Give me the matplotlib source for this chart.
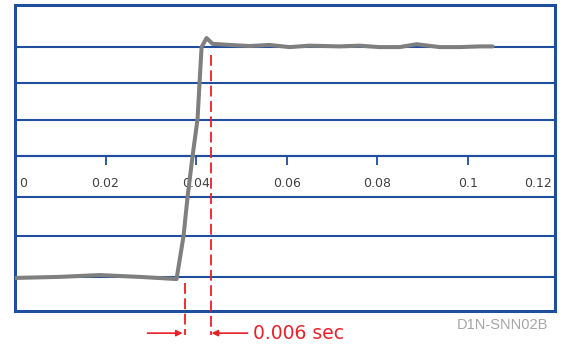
import matplotlib
matplotlib.use("Agg")
import matplotlib.pyplot as plt
from matplotlib.transforms import ScaledTranslation

# step response trace (time in s, signal in grid units)
t = [0.0, 0.00983, 0.01867, 0.02751, 0.03569, 0.03724, 0.03812, 0.03923,
     0.04033, 0.04077, 0.04122, 0.04232, 0.04365, 0.0474, 0.05182, 0.05624,
     0.06066, 0.06508, 0.07171, 0.07613, 0.08055, 0.08497, 0.08873, 0.09381,
     0.09823, 0.10265, 0.10552]
v = [-3.36, -3.33, -3.28, -3.33, -3.39, -2.20, -1.13, 0.0,
     1.02, 2.01, 3.00, 3.25, 3.09, 3.06, 3.03, 3.06,
     3.00, 3.04, 3.02, 3.04, 3.00, 3.00, 3.08, 3.00,
     3.00, 3.02, 3.02]

grid_levels = [3, 2, 1, 0, -1.13, -2.2, -3.33]
x_ticks = [0, 0.02, 0.04, 0.06, 0.08, 0.1]
x_labels = ["0", "0.02", "0.04", "0.06", "0.08", "0.1"]
x_end_label = "0.12"   # sits just past the visible range, at the frame

t_start = 0.0376   # rise start marker
t_end = 0.0432     # settle marker
delay_text = "0.006 sec"
code_text = "D1N-SNN02B"

blue = "#1f4e9c"
red = "#e8202a"

fig = plt.figure(figsize=(5.67, 3.47), dpi=100)
ax = fig.add_axes([15 / 567, 36 / 347, 540 / 567, 306 / 347])
ax.set_xlim(0, 0.1193)
ylo, yhi = -4.27, 4.16
ax.set_ylim(ylo, yhi)

for s in ax.spines.values():
    s.set_color(blue)
    s.set_linewidth(2.2)
ax.set_xticks([])
ax.set_yticks([])

for g in grid_levels:
    ax.axhline(g, color=blue, lw=1.5, zorder=1)

# x axis through zero
y0 = (0 - ylo) / (yhi - ylo)
sec = ax.secondary_xaxis(y0)
sec.set_alignment("bottom")
sec.spines["bottom"].set_color(blue)
sec.spines["bottom"].set_linewidth(1.5)
sec.set_xticks(x_ticks)
sec.set_xticklabels(x_labels)
sec.tick_params(axis="x", direction="out", length=6.5, width=1.3, color=blue,
                labelsize=9, labelcolor="#404040", pad=8.5)
labs = sec.get_xticklabels()
labs[0].set_ha("left")
labs[0].set_transform(labs[0].get_transform()
                      + ScaledTranslation(4 / 100, 0, fig.dpi_scale_trans))
lab_y = labs[1]
ax.annotate(x_end_label, xy=(1, y0), xycoords="axes fraction",
            xytext=(-2.5, -8.5 - 6.5), textcoords="offset points",
            ha="right", va="top", fontsize=9, color="#404040")

ax.plot(t, v, color="#7f7f7f", lw=2.9, solid_joinstyle="round",
        solid_capstyle="round", zorder=3)

ybot = -4.93
ax.plot([t_start, t_start], [-3.5, ybot], color=red, lw=1.3,
        dashes=(6, 2.5), clip_on=False, zorder=4)
ax.plot([t_end, t_end], [2.78, ybot], color=red, lw=1.3,
        dashes=(6, 2.5), clip_on=False, zorder=4)

ya = -4.88
arrow = dict(arrowstyle="-|>", color=red, lw=1.2, mutation_scale=9,
             shrinkA=0, shrinkB=0)
ax.annotate("", xy=(0.03702, ya), xytext=(0.02928, ya), arrowprops=arrow,
            annotation_clip=False)
ax.annotate("", xy=(0.04343, ya), xytext=(0.05138, ya), arrowprops=arrow,
            annotation_clip=False)
ax.text(0.05249, ya, delay_text, color=red, fontsize=13.5, ha="left",
        va="center", clip_on=False)

fig.text(548 / 567, 1 - 325 / 347, code_text, color="#a6a6a6", fontsize=10.5,
         family="Liberation Sans", ha="right", va="center")

fig.savefig("out.png", dpi=100)
